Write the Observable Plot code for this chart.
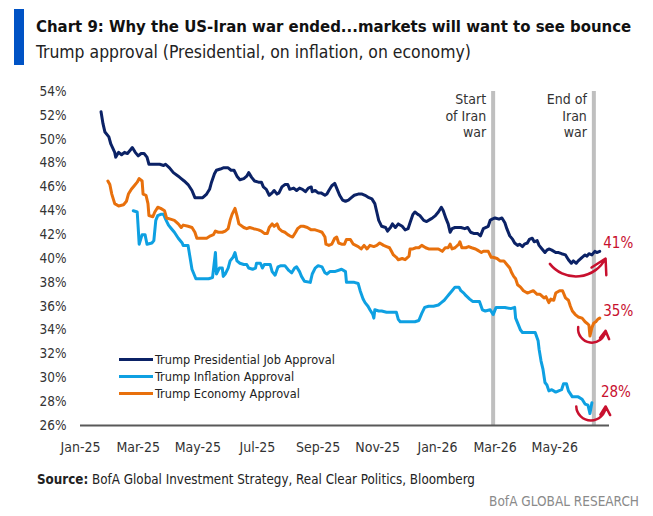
<!DOCTYPE html>
<html>
<head>
<meta charset="utf-8">
<script src="https://cdn.jsdelivr.net/npm/d3@7"></script>
<script src="https://cdn.jsdelivr.net/npm/@observablehq/plot@0.6"></script>
<style>
  :root { --font: "Liberation Sans Narrow", "DejaVu Sans Condensed", "Roboto", sans-serif; }
  html, body { margin: 0; padding: 0; background: #fff; }
  body { width: 653px; height: 516px; position: relative; overflow: hidden; font-family: var(--font); }
  #bar { position: absolute; left: 14px; top: 9px; width: 10px; height: 56px; background: #0053c5; }
  #title { position: absolute; left: 36px; top: 16px; font-weight: bold; font-size: 21px; line-height: 21px; color: #111; white-space: nowrap; }
  #subtitle { position: absolute; left: 36px; top: 42px; font-size: 21px; line-height: 21px; color: #222; white-space: nowrap; }
  #chart { position: absolute; left: 0; top: 70px; }
  #legend { position: absolute; left: 119px; top: 351px; font-size: 15px; color: #222; }
  #legend .row { display: flex; align-items: center; height: 17px; white-space: nowrap; }
  #legend .swatch { width: 34px; height: 3px; margin-right: 2px; flex: none; }
  #source { position: absolute; left: 37px; top: 470px; font-size: 16px; line-height: 20px; color: #222; white-space: nowrap; }
  #brand { position: absolute; right: 14px; top: 491px; font-size: 16px; line-height: 20px; color: #8a8a8a; white-space: nowrap; }
</style>
</head>
<body>
<div id="bar"></div>
<div id="title">Chart 9: Why the US-Iran war ended...markets will want to see bounce</div>
<div id="subtitle">Trump approval (Presidential, on inflation, on economy)</div>
<div id="chart"></div>
<div id="legend"></div>
<div id="source"><b>Source:</b> BofA Global Investment Strategy, Real Clear Politics, Bloomberg</div>
<div id="brand">BofA GLOBAL RESEARCH</div>
<script>
// Approval ratings, % (date, value)
const presidentialJob = [
  ["2025-01-22",52.3],["2025-01-24",51.3],["2025-01-26",50.6],["2025-01-30",50.2],["2025-02-01",49.6],["2025-02-05",48.9],
  ["2025-02-06",48.5],["2025-02-09",48.9],["2025-02-12",48.7],["2025-02-15",48.9],["2025-02-18",48.8],["2025-02-21",49.1],
  ["2025-02-23",49.3],["2025-02-26",48.9],["2025-03-01",48.6],["2025-03-04",48.8],["2025-03-07",48.8],["2025-03-10",48.5],
  ["2025-03-12",47.9],["2025-03-16",47.9],["2025-03-23",47.9],["2025-03-27",47.8],["2025-03-29",47.9],["2025-04-02",47.6],
  ["2025-04-06",47.2],["2025-04-11",46.9],["2025-04-14",46.7],["2025-04-17",46.5],["2025-04-21",46.2],["2025-04-25",45.7],
  ["2025-04-28",45.1],["2025-05-02",45.1],["2025-05-06",45.1],["2025-05-10",45.4],["2025-05-13",45.8],["2025-05-15",46.4],
  ["2025-05-18",47.1],["2025-05-20",47.4],["2025-05-24",47.5],["2025-05-27",47.6],["2025-06-01",47.6],["2025-06-04",47.4],
  ["2025-06-07",47.4],["2025-06-10",46.9],["2025-06-13",46.6],["2025-06-17",46.7],["2025-06-20",46.9],["2025-06-22",47.2],
  ["2025-06-25",46.8],["2025-06-28",46.5],["2025-07-02",46.4],["2025-07-05",46.4],["2025-07-07",46.0],["2025-07-10",45.8],
  ["2025-07-13",45.3],["2025-07-16",45.5],["2025-07-18",45.7],["2025-07-21",45.4],["2025-07-23",45.5],["2025-07-26",46.0],
  ["2025-07-29",46.2],["2025-08-01",46.2],["2025-08-03",45.8],["2025-08-07",45.9],["2025-08-10",45.7],["2025-08-13",45.9],
  ["2025-08-16",45.8],["2025-08-19",45.6],["2025-08-22",45.9],["2025-08-25",46.0],["2025-08-26",45.6],["2025-08-29",45.7],
  ["2025-09-01",45.5],["2025-09-04",45.5],["2025-09-08",45.3],["2025-09-10",45.4],["2025-09-12",45.7],["2025-09-15",46.1],
  ["2025-09-18",46.3],["2025-09-20",45.9],["2025-09-23",45.3],["2025-09-26",44.9],["2025-09-29",44.8],["2025-10-02",44.9],
  ["2025-10-05",45.1],["2025-10-08",45.3],["2025-10-12",45.4],["2025-10-16",45.4],["2025-10-19",45.3],["2025-10-23",45.1],
  ["2025-10-26",45.0],["2025-10-29",44.6],["2025-10-31",43.9],["2025-11-02",43.2],["2025-11-05",42.7],["2025-11-09",42.6],
  ["2025-11-11",42.3],["2025-11-14",42.6],["2025-11-16",42.9],["2025-11-19",42.6],["2025-11-22",42.9],["2025-11-26",42.7],
  ["2025-11-29",42.4],["2025-12-02",42.5],["2025-12-04",43.0],["2025-12-07",43.7],["2025-12-09",43.9],["2025-12-12",43.7],
  ["2025-12-14",43.6],["2025-12-18",43.2],["2025-12-21",43.1],["2025-12-25",43.3],["2025-12-27",43.4],["2025-12-30",43.6],
  ["2026-01-02",43.9],["2026-01-05",44.3],["2026-01-07",44.0],["2026-01-10",43.3],["2026-01-12",42.9],["2026-01-14",42.2],
  ["2026-01-16",42.5],["2026-01-19",42.6],["2026-01-23",42.6],["2026-01-25",42.6],["2026-01-29",42.5],["2026-02-01",42.6],
  ["2026-02-04",42.2],["2026-02-07",42.1],["2026-02-11",42.1],["2026-02-14",41.9],["2026-02-17",42.5],["2026-02-22",42.7],
  ["2026-02-24",43.2],["2026-02-26",43.3],["2026-03-01",43.4],["2026-03-05",43.3],["2026-03-08",43.4],["2026-03-11",43.0],
  ["2026-03-13",42.5],["2026-03-16",41.9],["2026-03-19",41.6],["2026-03-21",41.3],["2026-03-24",41.1],["2026-03-26",41.2],
  ["2026-03-29",41.0],["2026-03-31",41.2],["2026-04-03",41.3],["2026-04-05",41.6],["2026-04-08",41.7],["2026-04-10",41.4],
  ["2026-04-13",41.5],["2026-04-15",41.1],["2026-04-18",40.8],["2026-04-21",40.5],["2026-04-23",40.7],["2026-04-25",40.8],
  ["2026-04-28",40.7],["2026-05-02",40.5],["2026-05-05",40.5],["2026-05-08",40.4],["2026-05-12",40.3],["2026-05-15",39.9],
  ["2026-05-18",39.6],["2026-05-20",39.8],["2026-05-23",39.6],["2026-05-25",39.8],["2026-05-29",40.1],["2026-06-01",40.3],
  ["2026-06-03",40.2],["2026-06-05",40.4],["2026-06-08",40.3],["2026-06-11",40.6],["2026-06-13",40.5],["2026-06-16",40.6]
];

const inflationApproval = [
  ["2025-02-24",44.0],["2025-02-28",43.9],["2025-03-01",42.6],["2025-03-02",41.2],["2025-03-05",42.0],["2025-03-08",42.0],
  ["2025-03-10",41.2],["2025-03-15",41.3],["2025-03-17",41.5],["2025-03-19",43.2],["2025-03-21",43.6],["2025-03-24",43.7],
  ["2025-03-27",43.7],["2025-03-29",43.3],["2025-04-01",42.8],["2025-04-04",42.5],["2025-04-07",42.2],["2025-04-11",41.7],
  ["2025-04-15",41.3],["2025-04-16",41.1],["2025-04-21",41.1],["2025-04-23",40.1],["2025-04-25",39.1],["2025-04-29",38.3],
  ["2025-05-05",38.3],["2025-05-12",38.3],["2025-05-16",38.4],["2025-05-19",40.5],["2025-05-20",38.7],["2025-05-23",39.2],
  ["2025-05-26",39.2],["2025-05-27",38.5],["2025-05-29",38.7],["2025-06-01",39.2],["2025-06-03",39.8],["2025-06-06",40.1],
  ["2025-06-08",40.5],["2025-06-10",39.8],["2025-06-13",39.6],["2025-06-17",39.5],["2025-06-20",39.5],["2025-06-22",39.2],
  ["2025-06-26",39.1],["2025-06-29",39.2],["2025-06-30",39.6],["2025-07-04",39.6],["2025-07-06",39.2],["2025-07-08",39.5],
  ["2025-07-11",39.5],["2025-07-14",39.5],["2025-07-16",38.9],["2025-07-19",38.6],["2025-07-22",39.3],["2025-07-25",39.4],
  ["2025-07-29",39.4],["2025-08-02",39.0],["2025-08-05",38.8],["2025-08-08",39.2],["2025-08-10",39.3],["2025-08-13",38.9],
  ["2025-08-15",38.5],["2025-08-18",38.1],["2025-08-24",38.0],["2025-08-26",38.7],["2025-08-29",39.2],["2025-09-01",39.4],
  ["2025-09-05",39.3],["2025-09-08",38.8],["2025-09-10",38.7],["2025-09-13",38.9],["2025-09-18",38.9],["2025-09-25",39.1],
  ["2025-09-29",38.9],["2025-09-30",38.0],["2025-10-04",38.0],["2025-10-08",38.0],["2025-10-12",37.9],["2025-10-14",37.3],
  ["2025-10-17",36.6],["2025-10-19",36.3],["2025-10-22",36.0],["2025-10-24",35.7],["2025-10-27",35.3],["2025-10-28",35.0],
  ["2025-10-29",35.7],["2025-11-02",35.6],["2025-11-05",35.6],["2025-11-10",35.5],["2025-11-15",35.5],["2025-11-20",35.5],
  ["2025-11-22",34.9],["2025-11-24",34.7],["2025-11-29",34.7],["2025-12-04",34.7],["2025-12-09",34.7],["2025-12-13",34.8],
  ["2025-12-16",35.4],["2025-12-19",35.9],["2025-12-23",36.0],["2025-12-28",36.0],["2026-01-02",36.1],["2026-01-05",36.3],
  ["2026-01-08",36.5],["2026-01-11",36.8],["2026-01-13",37.0],["2026-01-16",37.3],["2026-01-19",37.6],["2026-01-23",37.6],
  ["2026-01-25",37.3],["2026-01-28",37.1],["2026-01-30",36.9],["2026-02-03",36.6],["2026-02-06",36.4],["2026-02-11",36.4],
  ["2026-02-13",36.4],["2026-02-16",35.7],["2026-02-19",35.6],["2026-02-24",35.7],["2026-02-27",35.3],["2026-03-02",35.9],
  ["2026-03-06",35.9],["2026-03-11",35.9],["2026-03-17",35.8],["2026-03-21",35.9],["2026-03-22",35.0],["2026-03-24",34.6],
  ["2026-03-27",34.0],["2026-03-29",33.8],["2026-04-03",33.8],["2026-04-07",33.8],["2026-04-11",33.8],["2026-04-14",33.1],
  ["2026-04-15",32.4],["2026-04-17",31.4],["2026-04-19",30.7],["2026-04-21",29.6],["2026-04-23",29.4],["2026-04-25",28.9],
  ["2026-04-28",29.0],["2026-05-02",28.8],["2026-05-05",28.9],["2026-05-08",29.0],["2026-05-10",29.5],["2026-05-13",29.5],
  ["2026-05-15",28.9],["2026-05-19",28.4],["2026-05-22",28.4],["2026-05-25",28.4],["2026-05-29",28.2],["2026-06-01",27.8],
  ["2026-06-04",27.7],["2026-06-06",27.0],["2026-06-08",27.9]
];

const economyApproval = [
  ["2025-01-29",46.5],["2025-01-31",46.2],["2025-02-02",45.4],["2025-02-05",44.6],["2025-02-09",44.4],["2025-02-14",44.5],
  ["2025-02-17",44.8],["2025-02-19",45.4],["2025-02-22",45.8],["2025-02-25",46.1],["2025-02-28",46.4],["2025-03-02",46.7],
  ["2025-03-05",46.5],["2025-03-06",45.4],["2025-03-09",45.3],["2025-03-11",44.6],["2025-03-12",43.6],["2025-03-16",43.5],
  ["2025-03-18",43.9],["2025-03-21",44.3],["2025-03-24",44.2],["2025-03-28",44.0],["2025-03-30",43.4],["2025-04-03",43.3],
  ["2025-04-07",43.2],["2025-04-11",42.9],["2025-04-14",42.6],["2025-04-16",42.8],["2025-04-21",42.7],["2025-04-25",42.6],
  ["2025-04-28",42.2],["2025-04-30",41.7],["2025-05-04",41.7],["2025-05-10",41.7],["2025-05-14",41.9],["2025-05-17",42.0],
  ["2025-05-19",42.3],["2025-05-22",42.2],["2025-05-26",42.2],["2025-05-29",42.3],["2025-06-01",42.5],["2025-06-03",43.2],
  ["2025-06-05",43.7],["2025-06-08",44.2],["2025-06-10",43.6],["2025-06-12",42.9],["2025-06-17",42.6],["2025-06-20",42.5],
  ["2025-06-23",42.6],["2025-06-27",42.5],["2025-07-02",42.4],["2025-07-05",42.3],["2025-07-08",42.1],["2025-07-11",42.1],
  ["2025-07-13",42.6],["2025-07-16",42.9],["2025-07-18",42.7],["2025-07-21",42.9],["2025-07-23",42.5],["2025-07-26",42.3],
  ["2025-07-29",42.2],["2025-08-01",42.0],["2025-08-03",41.9],["2025-08-06",41.8],["2025-08-09",42.2],["2025-08-11",42.5],
  ["2025-08-14",42.7],["2025-08-17",42.7],["2025-08-21",42.6],["2025-08-25",42.4],["2025-08-29",42.4],["2025-09-02",42.3],
  ["2025-09-05",42.2],["2025-09-08",41.8],["2025-09-09",41.2],["2025-09-12",41.1],["2025-09-15",41.2],["2025-09-18",41.7],
  ["2025-09-20",41.8],["2025-09-22",41.3],["2025-09-25",41.2],["2025-09-28",41.2],["2025-09-30",41.6],["2025-10-04",41.6],
  ["2025-10-07",41.2],["2025-10-12",41.0],["2025-10-15",40.8],["2025-10-18",41.1],["2025-10-21",40.8],["2025-10-24",41.1],
  ["2025-10-28",41.0],["2025-10-31",41.1],["2025-11-03",41.3],["2025-11-07",41.1],["2025-11-10",41.0],["2025-11-13",40.9],
  ["2025-11-15",40.6],["2025-11-17",40.3],["2025-11-20",40.1],["2025-11-22",39.9],["2025-11-26",40.0],["2025-11-29",39.9],
  ["2025-12-03",40.2],["2025-12-04",40.8],["2025-12-07",40.8],["2025-12-10",40.9],["2025-12-13",40.9],["2025-12-16",41.1],
  ["2025-12-20",40.9],["2025-12-23",40.8],["2025-12-28",40.8],["2026-01-02",40.8],["2026-01-06",40.6],["2026-01-09",40.9],
  ["2026-01-12",40.9],["2026-01-14",41.2],["2026-01-16",40.8],["2026-01-19",40.9],["2026-01-23",41.2],["2026-01-24",41.4],
  ["2026-01-26",40.9],["2026-01-30",40.9],["2026-02-02",41.0],["2026-02-05",40.9],["2026-02-09",40.8],["2026-02-11",40.7],
  ["2026-02-15",40.5],["2026-02-17",40.6],["2026-02-22",40.6],["2026-02-25",40.1],["2026-02-27",40.1],["2026-03-03",40.0],
  ["2026-03-06",39.8],["2026-03-10",39.8],["2026-03-13",39.5],["2026-03-16",39.2],["2026-03-18",38.8],["2026-03-20",38.5],
  ["2026-03-22",38.3],["2026-03-24",37.8],["2026-03-27",37.6],["2026-03-30",37.3],["2026-04-03",37.1],["2026-04-06",37.2],
  ["2026-04-09",37.3],["2026-04-13",37.0],["2026-04-16",37.0],["2026-04-20",36.7],["2026-04-22",36.8],["2026-04-25",36.3],
  ["2026-04-27",36.6],["2026-04-30",36.5],["2026-05-02",37.1],["2026-05-06",37.3],["2026-05-09",37.3],["2026-05-12",36.7],
  ["2026-05-15",36.5],["2026-05-17",36.0],["2026-05-19",35.6],["2026-05-22",35.3],["2026-05-25",35.1],["2026-05-29",35.0],
  ["2026-06-01",34.7],["2026-06-04",34.5],["2026-06-05",34.4],["2026-06-06",33.5],["2026-06-08",34.2],["2026-06-10",34.6],
  ["2026-06-12",34.7],["2026-06-14",34.9],["2026-06-16",35.0]
];

// Series names, in legend order, with their colours
const seriesNames = ["Trump Presidential Job Approval", "Trump Inflation Approval", "Trump Economy Approval"];
const seriesColors = ["#0b2266", "#0ea0e2", "#e8700c"];
const seriesData = [presidentialJob, inflationApproval, economyApproval];

// Axis ticks
const yTicks = [26, 28, 30, 32, 34, 36, 38, 40, 42, 44, 46, 48, 50, 52, 54];
const xTickDates = ["2025-01-01", "2025-03-01", "2025-05-01", "2025-07-01", "2025-09-01", "2025-11-01",
                    "2026-01-01", "2026-03-01", "2026-05-01"];

// War markers
const warDates = ["2026-02-27", "2026-06-10"];
const warLabels = ["Start\nof Iran\nwar", "End of\nIran\nwar"];

// Rebound arrows under each line's latest reading
const arrowStart = ["2026-04-26", "2026-05-23", "2026-05-25"];
const arrowStartValue = [39.55, 27.6, 34.25];
const arrowEnd = ["2026-06-22", "2026-06-22", "2026-06-22"];
const arrowEndValue = [40.0, 27.6, 33.95];
const arrowBend = [-57, -88, -90];
// Offsets (px) of the latest-value labels from the last point
const labelDx = [3.5, 9, 3.5];
const labelDy = [-8, -11, -7];

const FONT = getComputedStyle(document.documentElement).getPropertyValue("--font");
const parse = s => new Date(s + "T00:00:00Z");

const rows = seriesData.flatMap((arr, i) =>
  arr.map(([d, v]) => ({series: seriesNames[i], date: parse(d), value: v})));

const lastPoints = seriesData.map((arr, i) => {
  const [d, v] = arr[arr.length - 1];
  return {series: seriesNames[i], date: parse(d), value: v, text: `${Math.round(v)}%`,
          dx: labelDx[i], dy: labelDy[i]};
});

const arrows = seriesNames.map((s, i) => ({
  series: s, x1: parse(arrowStart[i]), y1: arrowStartValue[i],
  x2: parse(arrowEnd[i]), y2: arrowEndValue[i], bend: arrowBend[i]
}));

const wars = warDates.map((d, i) => ({date: parse(d), label: warLabels[i]}));

const red = "#c8102e";

const chart = Plot.plot({
  width: 653,
  height: 395,
  marginTop: 21,
  marginLeft: 80,
  marginRight: 44,
  marginBottom: 40,
  style: {fontFamily: FONT, fontSize: "14px", color: "#333", background: "transparent", overflow: "visible"},
  x: {type: "utc", domain: [parse("2025-01-01"), parse("2026-06-26")]},
  y: {domain: [26, 54]},
  color: {domain: seriesNames, range: seriesColors},
  marks: [
    Plot.ruleX(wars, {x: "date", stroke: "#bfbfbf", strokeWidth: 4}),
    Plot.text(wars, {x: "date", text: "label", frameAnchor: "top", textAnchor: "end", lineAnchor: "top",
                     dx: -7, dy: 1, lineHeight: 1.18, fontSize: 14, fill: "#333"}),
    Plot.axisY({ticks: yTicks, tickSize: 0, tickPadding: 14, tickFormat: d => `${d}%`, label: null, fontSize: 13.5}),
    Plot.axisX({ticks: xTickDates.map(parse), tickSize: 0, tickPadding: 17,
                tickFormat: d3.utcFormat("%b-%y"), label: null, fontSize: 14}),
    Plot.ruleY([26], {stroke: "#595959", strokeWidth: 2}),
    Plot.line(rows, {x: "date", y: "value", z: "series", stroke: "series", strokeWidth: 3,
                     strokeLinejoin: "round", strokeLinecap: "round"}),
    ...arrows.map(a => Plot.arrow([a], {x1: "x1", y1: "y1", x2: "x2", y2: "y2", bend: a.bend,
                     stroke: red, strokeWidth: 2.5, headLength: 10})),
    ...lastPoints.map(p => Plot.text([p], {x: "date", y: "value", text: "text", dx: p.dx, dy: p.dy,
                     textAnchor: "start", fill: red, fontSize: 15}))
  ]
});
document.getElementById("chart").appendChild(chart);

// Legend
const legend = document.getElementById("legend");
seriesNames.forEach((name, i) => {
  const row = document.createElement("div");
  row.className = "row";
  const sw = document.createElement("span");
  sw.className = "swatch";
  sw.style.background = seriesColors[i];
  const label = document.createElement("span");
  label.className = "label";
  label.textContent = name;
  row.append(sw, label);
  legend.appendChild(row);
});

// Size each block of text to the width it occupies in the layout
function fitWidth(el, width, target = el) {
  const w = el.getBoundingClientRect().width;
  const fs = parseFloat(getComputedStyle(target).fontSize);
  if (w > 0) target.style.fontSize = (fs * width / w).toFixed(2) + "px";
}
fitWidth(document.getElementById("title"), 596);
fitWidth(document.getElementById("subtitle"), 435);
fitWidth(document.getElementById("source"), 438);
fitWidth(document.getElementById("brand"), 150);
fitWidth(legend.querySelector(".label"), 180, legend);
</script>
</body>
</html>
